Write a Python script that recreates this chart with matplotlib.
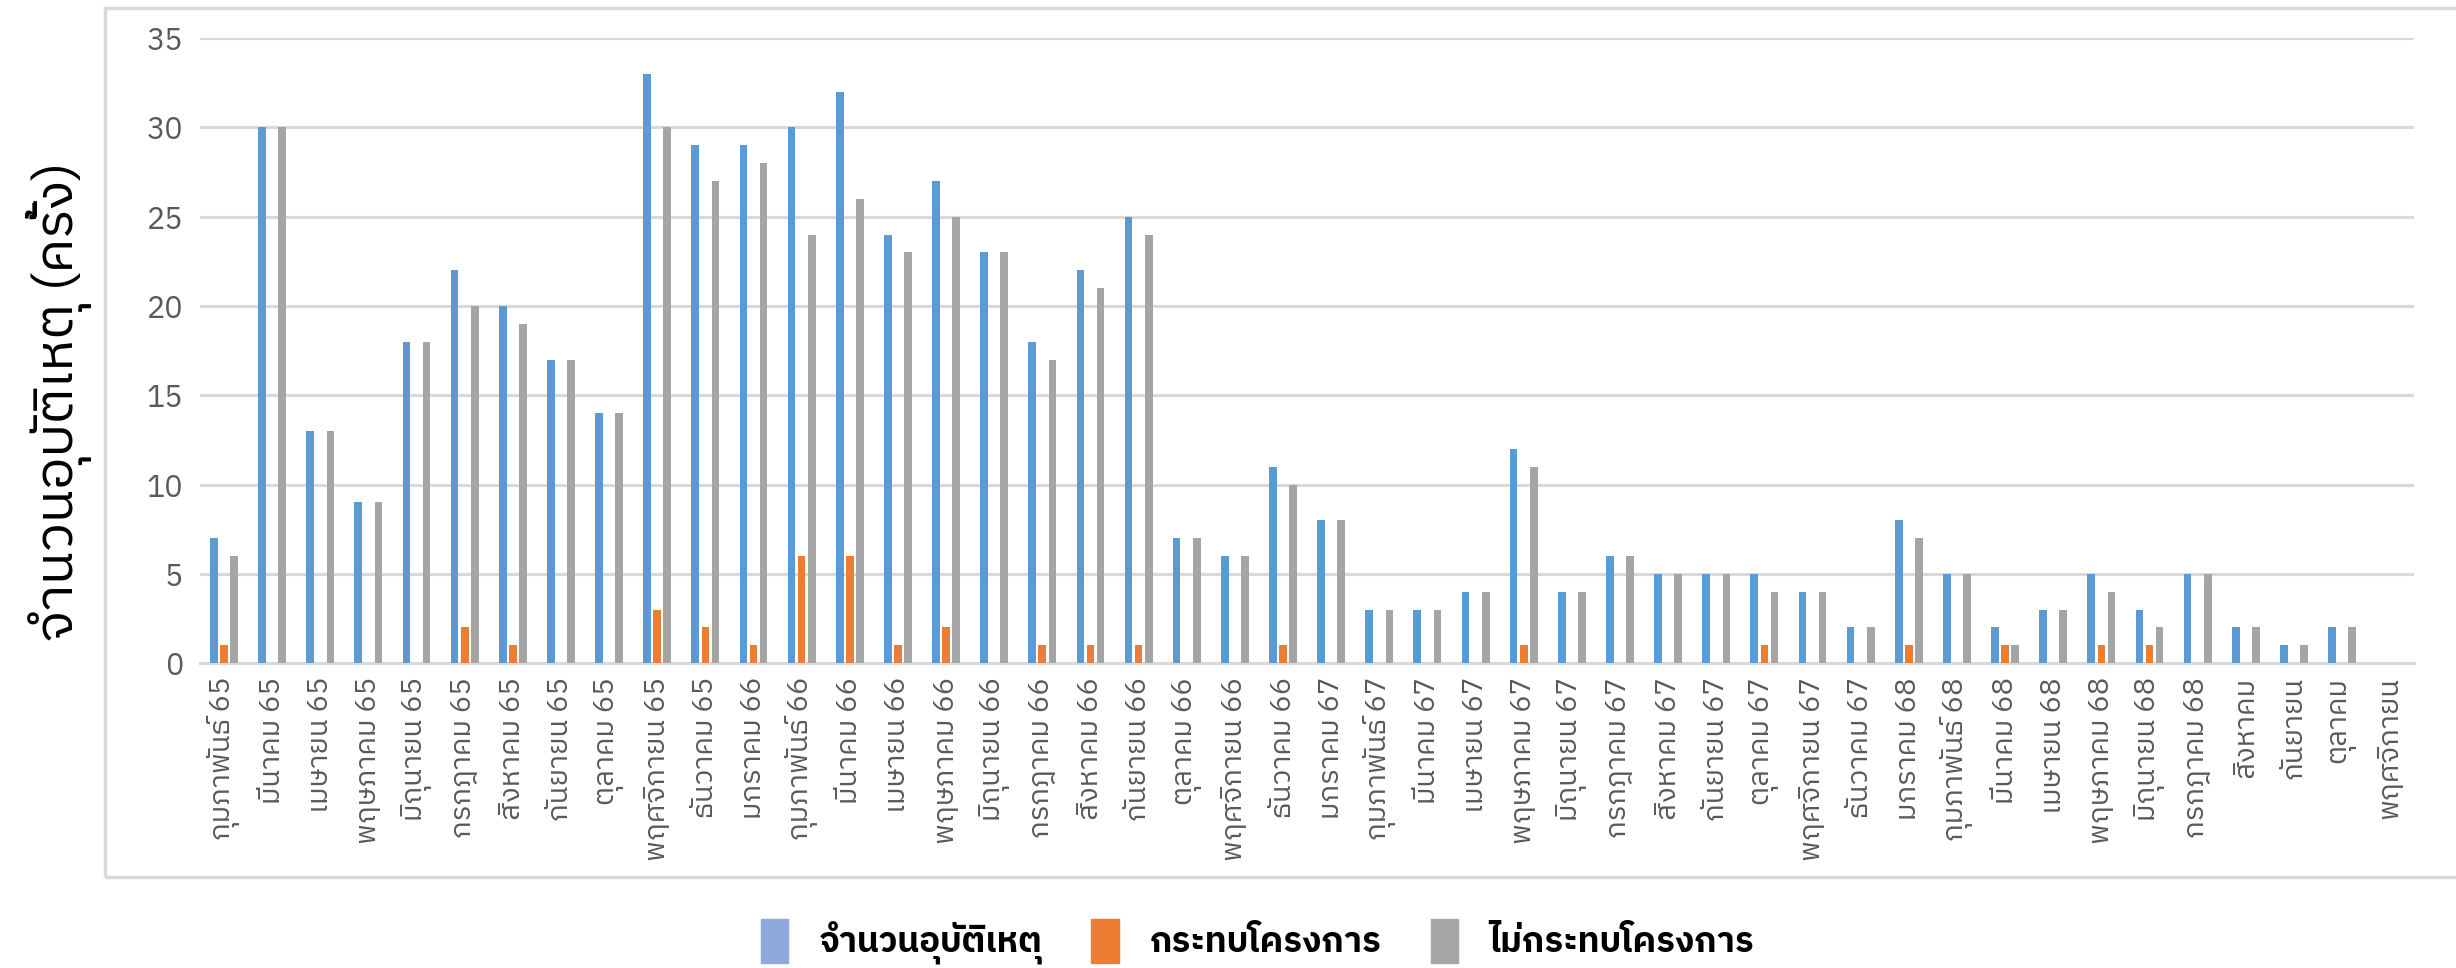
import matplotlib
matplotlib.use('Agg')
import matplotlib.pyplot as plt
from matplotlib import font_manager
from matplotlib.ft2font import FT2Font
from matplotlib.patches import Patch, Rectangle
import numpy as np

categories = [
    "กุมภาพันธ์ 65", "มีนาคม 65", "เมษายน 65", "พฤษภาคม 65", "มิถุนายน 65",
    "กรกฎาคม 65", "สิงหาคม 65", "กันยายน 65", "ตุลาคม 65", "พฤศจิกายน 65",
    "ธันวาคม 65", "มกราคม 66", "กุมภาพันธ์ 66", "มีนาคม 66", "เมษายน 66",
    "พฤษภาคม 66", "มิถุนายน 66", "กรกฎาคม 66", "สิงหาคม 66", "กันยายน 66",
    "ตุลาคม 66", "พฤศจิกายน 66", "ธันวาคม 66", "มกราคม 67", "กุมภาพันธ์ 67",
    "มีนาคม 67", "เมษายน 67", "พฤษภาคม 67", "มิถุนายน 67", "กรกฎาคม 67",
    "สิงหาคม 67", "กันยายน 67", "ตุลาคม 67", "พฤศจิกายน 67", "ธันวาคม 67",
    "มกราคม 68", "กุมภาพันธ์ 68", "มีนาคม 68", "เมษายน 68", "พฤษภาคม 68",
    "มิถุนายน 68", "กรกฎาคม 68", "สิงหาคม", "กันยายน", "ตุลาคม", "พฤศจิกายน",
]
total = [7, 30, 13, 9, 18, 22, 20, 17, 14, 33, 29, 29, 30, 32, 24, 27, 23, 18, 22, 25,
         7, 6, 11, 8, 3, 3, 4, 12, 4, 6, 5, 5, 5, 4, 2, 8, 5, 2, 3, 5, 3, 5, 2, 1, 2, 0]
affected = [1, 0, 0, 0, 0, 2, 1, 0, 0, 3, 2, 1, 6, 6, 1, 2, 0, 1, 1, 1,
            0, 0, 1, 0, 0, 0, 0, 1, 0, 0, 0, 0, 1, 0, 0, 1, 0, 1, 0, 1, 1, 0, 0, 0, 0, 0]
not_affected = [6, 30, 13, 9, 18, 20, 19, 17, 14, 30, 27, 28, 24, 26, 23, 25, 23, 17, 21, 24,
                7, 6, 10, 8, 3, 3, 4, 11, 4, 6, 5, 5, 4, 4, 2, 7, 5, 1, 3, 4, 2, 5, 2, 1, 2, 0]
series_names = ["จำนวนอุบัติเหตุ", "กระทบโครงการ", "ไม่กระทบโครงการ"]
y_label = "จำนวนอุบัติเหตุ (ครั้ง)"


def find_thai_families():
    good = []
    seen = set()
    for f in font_manager.fontManager.ttflist:
        if f.name in seen:
            continue
        try:
            cmap = FT2Font(f.fname).get_charmap()
        except Exception:
            continue
        if 0x0E08 in cmap and 0x0E33 in cmap and 0x0E38 in cmap:
            seen.add(f.name)
            good.append(f.name)
    def score(n):
        s = 0
        if 'Thai' in n:
            s -= 10
        if 'Sans' in n:
            s -= 5
        if 'Looped' in n:
            s += 3
        return s
    good.sort(key=score)
    return good


thai = find_thai_families()
fam = (thai[:1] if thai else []) + ['DejaVu Sans']
plt.rcParams['font.family'] = fam

fig = plt.figure(figsize=(24.56, 9.68), dpi=100)
ax = fig.add_axes([0.0814, 0.315, 0.9016, 0.6455])

# chart border
fig.patches.append(Rectangle((0.0428, 0.094), 1.0, 0.898, transform=fig.transFigure,
                             fill=False, edgecolor='#D9D9D9', linewidth=2.5, zorder=0))

x = np.arange(len(categories))
w = 0.16
off = 0.21
c_blue, c_orange, c_gray = '#5B9BD5', '#ED7D31', '#A5A5A5'
ax.bar(x - off, total, width=w, color=c_blue, zorder=3)
ax.bar(x, affected, width=w, color=c_orange, zorder=3)
ax.bar(x + off, not_affected, width=w, color=c_gray, zorder=3)

ax.set_xlim(-0.5, len(categories) - 0.5)
ax.set_ylim(0, 35)
ax.set_yticks(range(0, 36, 5))
ax.yaxis.grid(True, color='#D9D9D9', linewidth=2.2, zorder=0)
ax.set_axisbelow(True)
for s in ['top', 'right', 'left']:
    ax.spines[s].set_visible(False)
ax.spines['bottom'].set_color('#D9D9D9')
ax.spines['bottom'].set_linewidth(2.2)
ax.tick_params(axis='both', length=0, colors='#595959')
ax.tick_params(axis='y', pad=12, labelsize=22)
ax.tick_params(axis='x', pad=10, labelsize=21)
ax.set_xticks(x)
ax.set_xticklabels(categories, rotation=90, va='top', ha='center')

fig.text(0.024, 0.585, y_label, rotation=90, ha='center', va='center',
         fontsize=39, color='black')

handles = [Patch(color='#8EAADB'), Patch(color=c_orange), Patch(color=c_gray)]
fig.legend(handles, series_names, loc='center', bbox_to_anchor=(0.512, 0.027),
           ncol=3, frameon=False, handlelength=0.8, handleheight=1.6,
           columnspacing=1.4, handletextpad=0.9, prop={'weight': 'bold', 'size': 25})

fig.savefig('out.png', dpi=100)
